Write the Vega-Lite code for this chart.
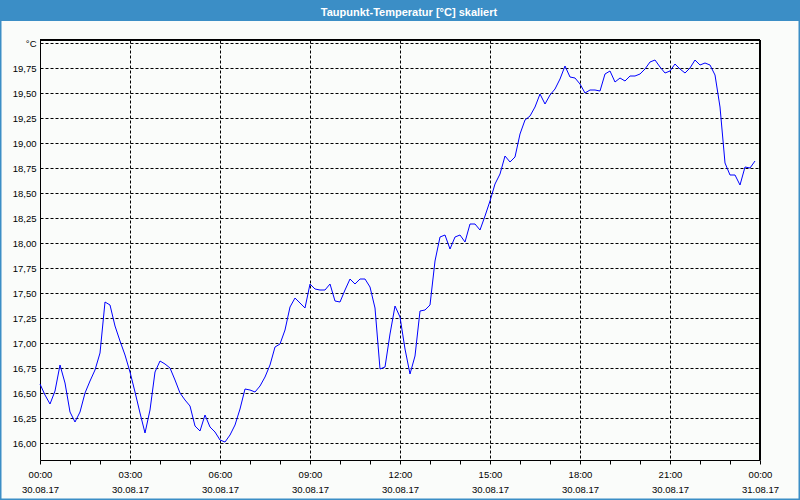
{
  "$schema": "https://vega.github.io/schema/vega-lite/v6.json",
  "width": 800,
  "height": 500,
  "autosize": "none",
  "padding": 0,
  "background": "#fafcfa",
  "view": {"fill": "#fafcfa", "stroke": "#3b8ec6", "strokeWidth": 3},
  "title": {
    "text": "Taupunkt-Temperatur [°C] skaliert",
    "color": "#ffffff",
    "font": "Liberation Sans",
    "fontSize": 11,
    "fontWeight": "bold",
    "anchor": "middle",
    "frame": "group",
    "baseline": "alphabetic",
    "offset": -13,
    "dy": 14,
    "dx": 9
  },
  "data": {"values": [
    {"t": "2017-08-30T00:00:00Z", "v": 16.59}, {"t": "2017-08-30T00:10:00Z", "v": 16.48}, {"t": "2017-08-30T00:20:00Z", "v": 16.39},
    {"t": "2017-08-30T00:30:00Z", "v": 16.52}, {"t": "2017-08-30T00:40:00Z", "v": 16.78}, {"t": "2017-08-30T00:50:00Z", "v": 16.60},
    {"t": "2017-08-30T01:00:00Z", "v": 16.31}, {"t": "2017-08-30T01:10:00Z", "v": 16.21}, {"t": "2017-08-30T01:20:00Z", "v": 16.31},
    {"t": "2017-08-30T01:30:00Z", "v": 16.50}, {"t": "2017-08-30T01:40:00Z", "v": 16.62}, {"t": "2017-08-30T01:50:00Z", "v": 16.73},
    {"t": "2017-08-30T02:00:00Z", "v": 16.90}, {"t": "2017-08-30T02:10:00Z", "v": 17.41}, {"t": "2017-08-30T02:20:00Z", "v": 17.38},
    {"t": "2017-08-30T02:30:00Z", "v": 17.17}, {"t": "2017-08-30T02:40:00Z", "v": 17.02}, {"t": "2017-08-30T02:50:00Z", "v": 16.88},
    {"t": "2017-08-30T03:00:00Z", "v": 16.71}, {"t": "2017-08-30T03:10:00Z", "v": 16.51}, {"t": "2017-08-30T03:20:00Z", "v": 16.30},
    {"t": "2017-08-30T03:30:00Z", "v": 16.10}, {"t": "2017-08-30T03:40:00Z", "v": 16.33}, {"t": "2017-08-30T03:50:00Z", "v": 16.71},
    {"t": "2017-08-30T04:00:00Z", "v": 16.82}, {"t": "2017-08-30T04:10:00Z", "v": 16.79}, {"t": "2017-08-30T04:20:00Z", "v": 16.75},
    {"t": "2017-08-30T04:30:00Z", "v": 16.63}, {"t": "2017-08-30T04:40:00Z", "v": 16.50}, {"t": "2017-08-30T04:50:00Z", "v": 16.43},
    {"t": "2017-08-30T05:00:00Z", "v": 16.37}, {"t": "2017-08-30T05:10:00Z", "v": 16.17}, {"t": "2017-08-30T05:20:00Z", "v": 16.12},
    {"t": "2017-08-30T05:30:00Z", "v": 16.28}, {"t": "2017-08-30T05:40:00Z", "v": 16.16}, {"t": "2017-08-30T05:50:00Z", "v": 16.11},
    {"t": "2017-08-30T06:00:00Z", "v": 16.03}, {"t": "2017-08-30T06:10:00Z", "v": 16.01}, {"t": "2017-08-30T06:20:00Z", "v": 16.08},
    {"t": "2017-08-30T06:30:00Z", "v": 16.18}, {"t": "2017-08-30T06:40:00Z", "v": 16.34}, {"t": "2017-08-30T06:50:00Z", "v": 16.54},
    {"t": "2017-08-30T07:00:00Z", "v": 16.53}, {"t": "2017-08-30T07:10:00Z", "v": 16.51}, {"t": "2017-08-30T07:20:00Z", "v": 16.57},
    {"t": "2017-08-30T07:30:00Z", "v": 16.66}, {"t": "2017-08-30T07:40:00Z", "v": 16.78}, {"t": "2017-08-30T07:50:00Z", "v": 16.96},
    {"t": "2017-08-30T08:00:00Z", "v": 16.99}, {"t": "2017-08-30T08:10:00Z", "v": 17.13}, {"t": "2017-08-30T08:20:00Z", "v": 17.36},
    {"t": "2017-08-30T08:30:00Z", "v": 17.45}, {"t": "2017-08-30T08:40:00Z", "v": 17.40}, {"t": "2017-08-30T08:50:00Z", "v": 17.35},
    {"t": "2017-08-30T09:00:00Z", "v": 17.59}, {"t": "2017-08-30T09:10:00Z", "v": 17.54}, {"t": "2017-08-30T09:20:00Z", "v": 17.53},
    {"t": "2017-08-30T09:30:00Z", "v": 17.53}, {"t": "2017-08-30T09:40:00Z", "v": 17.59}, {"t": "2017-08-30T09:50:00Z", "v": 17.42},
    {"t": "2017-08-30T10:00:00Z", "v": 17.41}, {"t": "2017-08-30T10:10:00Z", "v": 17.53}, {"t": "2017-08-30T10:20:00Z", "v": 17.64},
    {"t": "2017-08-30T10:30:00Z", "v": 17.59}, {"t": "2017-08-30T10:40:00Z", "v": 17.64}, {"t": "2017-08-30T10:50:00Z", "v": 17.64},
    {"t": "2017-08-30T11:00:00Z", "v": 17.56}, {"t": "2017-08-30T11:10:00Z", "v": 17.35}, {"t": "2017-08-30T11:20:00Z", "v": 16.74},
    {"t": "2017-08-30T11:30:00Z", "v": 16.76}, {"t": "2017-08-30T11:40:00Z", "v": 17.09}, {"t": "2017-08-30T11:50:00Z", "v": 17.37},
    {"t": "2017-08-30T12:00:00Z", "v": 17.26}, {"t": "2017-08-30T12:10:00Z", "v": 16.94}, {"t": "2017-08-30T12:20:00Z", "v": 16.69},
    {"t": "2017-08-30T12:30:00Z", "v": 16.87}, {"t": "2017-08-30T12:40:00Z", "v": 17.32}, {"t": "2017-08-30T12:50:00Z", "v": 17.33},
    {"t": "2017-08-30T13:00:00Z", "v": 17.38}, {"t": "2017-08-30T13:10:00Z", "v": 17.82}, {"t": "2017-08-30T13:20:00Z", "v": 18.06},
    {"t": "2017-08-30T13:30:00Z", "v": 18.08}, {"t": "2017-08-30T13:40:00Z", "v": 17.94}, {"t": "2017-08-30T13:50:00Z", "v": 18.06},
    {"t": "2017-08-30T14:00:00Z", "v": 18.08}, {"t": "2017-08-30T14:10:00Z", "v": 18.01}, {"t": "2017-08-30T14:20:00Z", "v": 18.19},
    {"t": "2017-08-30T14:30:00Z", "v": 18.19}, {"t": "2017-08-30T14:40:00Z", "v": 18.13}, {"t": "2017-08-30T14:50:00Z", "v": 18.27},
    {"t": "2017-08-30T15:00:00Z", "v": 18.42}, {"t": "2017-08-30T15:10:00Z", "v": 18.59}, {"t": "2017-08-30T15:20:00Z", "v": 18.69},
    {"t": "2017-08-30T15:30:00Z", "v": 18.87}, {"t": "2017-08-30T15:40:00Z", "v": 18.81}, {"t": "2017-08-30T15:50:00Z", "v": 18.86},
    {"t": "2017-08-30T16:00:00Z", "v": 19.09}, {"t": "2017-08-30T16:10:00Z", "v": 19.23}, {"t": "2017-08-30T16:20:00Z", "v": 19.27},
    {"t": "2017-08-30T16:30:00Z", "v": 19.36}, {"t": "2017-08-30T16:40:00Z", "v": 19.49}, {"t": "2017-08-30T16:50:00Z", "v": 19.39},
    {"t": "2017-08-30T17:00:00Z", "v": 19.48}, {"t": "2017-08-30T17:10:00Z", "v": 19.54}, {"t": "2017-08-30T17:20:00Z", "v": 19.64},
    {"t": "2017-08-30T17:30:00Z", "v": 19.77}, {"t": "2017-08-30T17:40:00Z", "v": 19.66}, {"t": "2017-08-30T17:50:00Z", "v": 19.65},
    {"t": "2017-08-30T18:00:00Z", "v": 19.59}, {"t": "2017-08-30T18:10:00Z", "v": 19.50}, {"t": "2017-08-30T18:20:00Z", "v": 19.53},
    {"t": "2017-08-30T18:30:00Z", "v": 19.53}, {"t": "2017-08-30T18:40:00Z", "v": 19.52}, {"t": "2017-08-30T18:50:00Z", "v": 19.69},
    {"t": "2017-08-30T19:00:00Z", "v": 19.72}, {"t": "2017-08-30T19:10:00Z", "v": 19.61}, {"t": "2017-08-30T19:20:00Z", "v": 19.65},
    {"t": "2017-08-30T19:30:00Z", "v": 19.62}, {"t": "2017-08-30T19:40:00Z", "v": 19.67}, {"t": "2017-08-30T19:50:00Z", "v": 19.67},
    {"t": "2017-08-30T20:00:00Z", "v": 19.69}, {"t": "2017-08-30T20:10:00Z", "v": 19.74}, {"t": "2017-08-30T20:20:00Z", "v": 19.81},
    {"t": "2017-08-30T20:30:00Z", "v": 19.83}, {"t": "2017-08-30T20:40:00Z", "v": 19.76}, {"t": "2017-08-30T20:50:00Z", "v": 19.70},
    {"t": "2017-08-30T21:00:00Z", "v": 19.72}, {"t": "2017-08-30T21:10:00Z", "v": 19.79}, {"t": "2017-08-30T21:20:00Z", "v": 19.74},
    {"t": "2017-08-30T21:30:00Z", "v": 19.70}, {"t": "2017-08-30T21:40:00Z", "v": 19.75}, {"t": "2017-08-30T21:50:00Z", "v": 19.83},
    {"t": "2017-08-30T22:00:00Z", "v": 19.78}, {"t": "2017-08-30T22:10:00Z", "v": 19.80}, {"t": "2017-08-30T22:20:00Z", "v": 19.78},
    {"t": "2017-08-30T22:30:00Z", "v": 19.68}, {"t": "2017-08-30T22:40:00Z", "v": 19.36}, {"t": "2017-08-30T22:50:00Z", "v": 18.80},
    {"t": "2017-08-30T23:00:00Z", "v": 18.68}, {"t": "2017-08-30T23:10:00Z", "v": 18.68}, {"t": "2017-08-30T23:20:00Z", "v": 18.58},
    {"t": "2017-08-30T23:30:00Z", "v": 18.76}, {"t": "2017-08-30T23:40:00Z", "v": 18.75}, {"t": "2017-08-30T23:50:00Z", "v": 18.82}
  ]},
  "layer": [
    {
      "mark": {"type": "rect", "color": "#3b8ec6"},
      "encoding": {
        "x": {"datum": 1504046400000, "type": "temporal"},
        "x2": {"datum": 1504142400000},
        "y": {"datum": 20.43, "type": "quantitative"},
        "y2": {"datum": 20.22}
      }
    },
    {
      "mark": {"type": "line", "color": "#0000ff", "strokeWidth": 1},
      "encoding": {
        "x": {
          "field": "t", "type": "temporal",
          "scale": {"type": "utc", "domain": [1504051200000, 1504137600000], "range": [40, 760], "nice": false},
          "axis": {
            "orient": "bottom", "offset": -40, "title": null,
            "tickCount": 24,
            "domain": true, "domainColor": "#000000",
            "ticks": true, "tickSize": 4, "tickColor": "#000000",
            "grid": true, "gridColor": "#000000", "gridDash": [3, 2],
            "gridOpacity": {"condition": {"test": "utchours(datum.value) % 3 === 0", "value": 1}, "value": 0},
            "labelExpr": "utchours(datum.value) % 3 === 0 ? [utcFormat(datum.value, '%H:%M'), utcFormat(datum.value, '%d.%m.%y')] : ''",
            "labelFont": "Liberation Sans", "labelFontSize": 9.5, "labelColor": "#000000",
            "labelPadding": 5, "labelLineHeight": 15, "labelBaseline": "top",
            "labelOverlap": false, "labelFlush": false
          }
        },
        "y": {
          "field": "v", "type": "quantitative",
          "scale": {"domain": [15.83, 20.03], "range": [460, 40], "zero": false, "nice": false},
          "axis": {
            "orient": "left", "offset": -40, "title": null,
            "tickCount": 40,
            "values": [16, 16.25, 16.5, 16.75, 17, 17.25, 17.5, 17.75, 18, 18.25, 18.5, 18.75, 19, 19.25, 19.5, 19.75, 20],
            "domain": true, "domainColor": "#000000",
            "ticks": false,
            "grid": true, "gridColor": "#000000", "gridDash": [3, 2], "gridOpacity": 1,
            "labelExpr": "datum.value >= 19.999 ? '°C' : replace(format(datum.value, '.2f'), '.', ',')",
            "labelFont": "Liberation Sans", "labelFontSize": 9.5, "labelColor": "#000000",
            "labelPadding": 4, "labelBaseline": "middle", "labelAlign": "right",
            "labelOverlap": false
          }
        }
      }
    },
    {
      "mark": {"type": "rule", "color": "#000000", "strokeWidth": 1},
      "encoding": {
        "x": {"datum": 1504051200000, "type": "temporal"},
        "x2": {"datum": 1504137600000},
        "y": {"datum": 20.03, "type": "quantitative"}
      }
    },
    {
      "mark": {"type": "rule", "color": "#000000", "strokeWidth": 1},
      "encoding": {
        "x": {"datum": 1504137600000, "type": "temporal"},
        "y": {"datum": 15.83, "type": "quantitative"},
        "y2": {"datum": 20.03}
      }
    }
  ]
}
